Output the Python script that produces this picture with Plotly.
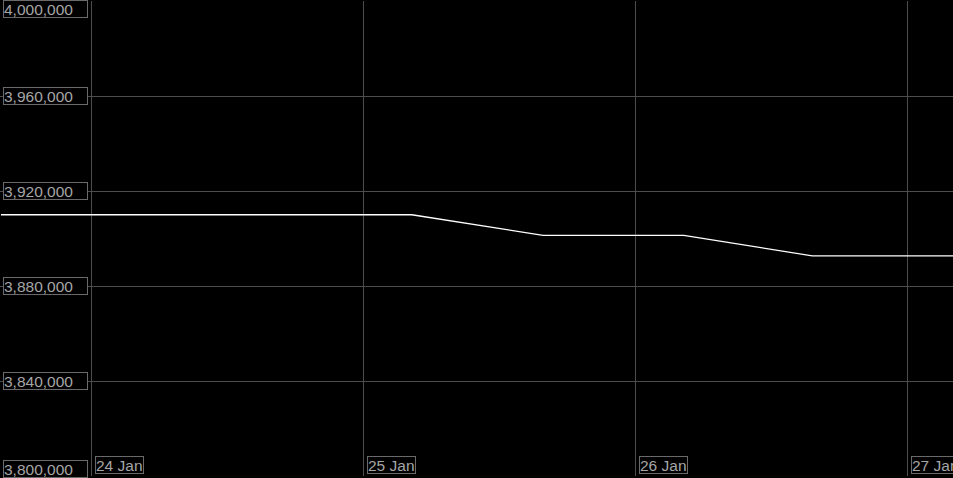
import plotly.graph_objects as go

# Data
times = ["2024-01-23 16:00", "2024-01-25 04:15", "2024-01-25 15:50",
         "2024-01-26 04:15", "2024-01-26 15:35", "2024-01-27 04:00"]
values = [3910000, 3910000, 3901300, 3901300, 3892700, 3892700]

y_ticks = [3800000, 3840000, 3880000, 3920000, 3960000, 4000000]
x_ticks = ["2024-01-24", "2024-01-25", "2024-01-26", "2024-01-27"]
x_tick_labels = ["24 Jan", "25 Jan", "26 Jan", "27 Jan"]

x_range = ["2024-01-23 15:55", "2024-01-27 04:00"]
y_range = [3800000, 4000000]

fig = go.Figure()
fig.add_trace(go.Scatter(x=times, y=values, mode="lines",
                         line=dict(color="#ffffff", width=1.3),
                         hoverinfo="skip", showlegend=False))

label_font = dict(family="Liberation Sans, Arial, sans-serif", size=15.5, color="#a6a6a6")
annotations = []
for v in y_ticks:
    if v == y_range[1]:
        ya, ys = "top", 1
    elif v == y_range[0]:
        ya, ys = "bottom", -2
    else:
        ya, ys = "middle", 0
    annotations.append(dict(
        x=0, xref="paper", y=v, yref="y", xanchor="left", yanchor=ya,
        xshift=3, yshift=ys, text=f"{v:,}", showarrow=False, font=label_font,
        bordercolor="#6a6a6a", borderwidth=1, borderpad=0, width=83, height=16,
        align="left", bgcolor="#000000"))
for xt, lab in zip(x_ticks, x_tick_labels):
    annotations.append(dict(
        x=xt, xref="x", y=0, yref="paper", xanchor="left", yanchor="bottom",
        xshift=3, yshift=2, text=lab, showarrow=False, font=label_font,
        bordercolor="#6a6a6a", borderwidth=1, borderpad=0, height=16,
        bgcolor="#000000"))

fig.update_layout(
    width=953, height=478,
    margin=dict(l=0, r=0, t=1, b=2, autoexpand=False),
    paper_bgcolor="#000000", plot_bgcolor="#000000",
    showlegend=False,
    annotations=annotations,
    xaxis=dict(type="date", range=x_range, tickvals=x_ticks, showticklabels=False,
               showgrid=True, gridcolor="#4d4d4d", gridwidth=1, zeroline=False,
               showline=False, ticks="", automargin=False),
    yaxis=dict(range=y_range, tickvals=y_ticks, showticklabels=False,
               showgrid=True, gridcolor="#4d4d4d", gridwidth=1, zeroline=False,
               showline=False, ticks="", automargin=False),
)

fig.write_html("out.html", config={"displayModeBar": False},
               post_script="document.body.style.margin='0';document.body.style.background='#000';")
